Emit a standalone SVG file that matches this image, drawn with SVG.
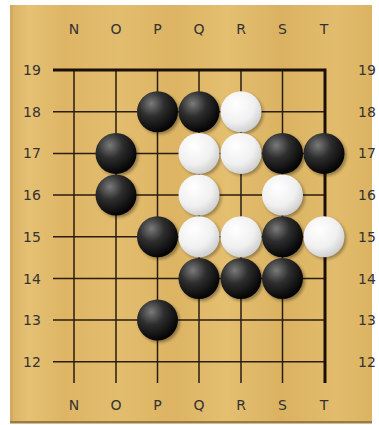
<svg xmlns="http://www.w3.org/2000/svg" width="379" height="425" viewBox="0 0 379 425">
<defs>
<linearGradient id="wood" x1="0" y1="0" x2="1" y2="0">
<stop offset="0" stop-color="#d9b162"/>
<stop offset="0.05" stop-color="#e6c173"/>
<stop offset="0.15" stop-color="#ddb565"/>
<stop offset="0.3" stop-color="#e3bd6e"/>
<stop offset="0.45" stop-color="#dcb463"/>
<stop offset="0.6" stop-color="#e4bf70"/>
<stop offset="0.75" stop-color="#dab262"/>
<stop offset="0.9" stop-color="#e2bc6c"/>
<stop offset="1" stop-color="#dbb363"/>
</linearGradient>
<radialGradient id="bg" cx="0.35" cy="0.3" r="0.7">
<stop offset="0" stop-color="#7a7a7a"/>
<stop offset="0.45" stop-color="#2e2e2e"/>
<stop offset="1" stop-color="#050505"/>
</radialGradient>
<radialGradient id="wg" cx="0.38" cy="0.32" r="0.75">
<stop offset="0" stop-color="#ffffff"/>
<stop offset="0.6" stop-color="#f0f0f0"/>
<stop offset="1" stop-color="#c8c8c8"/>
</radialGradient>
<filter id="sh" x="-30%" y="-30%" width="170%" height="170%">
<feGaussianBlur stdDeviation="1.5"/>
</filter>
<symbol id="b" overflow="visible">
<circle cx="2" cy="2" r="20.5" fill="#000" opacity="0.35" filter="url(#sh)"/>
<circle cx="0" cy="0" r="20.5" fill="url(#bg)"/>
</symbol>
<symbol id="w" overflow="visible">
<circle cx="2" cy="2" r="20.5" fill="#000" opacity="0.3" filter="url(#sh)"/>
<circle cx="0" cy="0" r="20.5" fill="url(#wg)"/>
</symbol>
</defs>
<style>
.lbl{font-family:"DejaVu Sans",Verdana,sans-serif;font-size:14px;fill:#333;text-anchor:middle}
.ln{stroke:#2a1c10;stroke-width:1.5;fill:none}
.bd{stroke:#1a1008;stroke-width:3;fill:none}
</style>
<rect x="10" y="5" width="362" height="418" fill="url(#wood)"/>
<rect x="10" y="5" width="3" height="418" fill="#c9a560" opacity="0.6"/>
<rect x="10" y="421" width="362" height="2.5" fill="#9c7a40"/>
<g id="grid">
<path class="ln" d="M53 111.7H325M53 153.4H325M53 195H325M53 236.8H325M53 278.5H325M53 320H325M53 361.7H325"/>
<path class="ln" d="M74 70V383M116 70V383M157.5 70V383M199 70V383M241 70V383M282.5 70V383"/>
<path class="bd" d="M53 70H325V383"/>
</g>
<g id="labels">
<text class="lbl" x="74" y="34">N</text><text class="lbl" x="116" y="34">O</text><text class="lbl" x="157.5" y="34">P</text><text class="lbl" x="199" y="34">Q</text><text class="lbl" x="241" y="34">R</text><text class="lbl" x="282.5" y="34">S</text><text class="lbl" x="324" y="34">T</text>
<text class="lbl" x="74" y="410">N</text><text class="lbl" x="116" y="410">O</text><text class="lbl" x="157.5" y="410">P</text><text class="lbl" x="199" y="410">Q</text><text class="lbl" x="241" y="410">R</text><text class="lbl" x="282.5" y="410">S</text><text class="lbl" x="324" y="410">T</text>
<text class="lbl" x="32" y="75">19</text><text class="lbl" x="32" y="116.7">18</text><text class="lbl" x="32" y="158.4">17</text><text class="lbl" x="32" y="200">16</text><text class="lbl" x="32" y="241.8">15</text><text class="lbl" x="32" y="283.5">14</text><text class="lbl" x="32" y="325">13</text><text class="lbl" x="32" y="366.7">12</text>
<text class="lbl" x="367" y="75">19</text><text class="lbl" x="367" y="116.7">18</text><text class="lbl" x="367" y="158.4">17</text><text class="lbl" x="367" y="200">16</text><text class="lbl" x="367" y="241.8">15</text><text class="lbl" x="367" y="283.5">14</text><text class="lbl" x="367" y="325">13</text><text class="lbl" x="367" y="366.7">12</text>
</g>
<g id="stones">
<use id="P18" href="#b" x="157.5" y="111.7"/>
<use id="Q18" href="#b" x="199" y="111.7"/>
<use id="R18" href="#w" x="241" y="111.7"/>
<use id="O17" href="#b" x="116" y="153.4"/>
<use id="Q17" href="#w" x="199" y="153.4"/>
<use id="R17" href="#w" x="241" y="153.4"/>
<use id="S17" href="#b" x="282.5" y="153.4"/>
<use id="T17" href="#b" x="324" y="153.4"/>
<use id="O16" href="#b" x="116" y="195"/>
<use id="Q16" href="#w" x="199" y="195"/>
<use id="S16" href="#w" x="282.5" y="195"/>
<use id="P15" href="#b" x="157.5" y="236.8"/>
<use id="Q15" href="#w" x="199" y="236.8"/>
<use id="R15" href="#w" x="241" y="236.8"/>
<use id="S15" href="#b" x="282.5" y="236.8"/>
<use id="T15" href="#w" x="324" y="236.8"/>
<use id="Q14" href="#b" x="199" y="278.5"/>
<use id="R14" href="#b" x="241" y="278.5"/>
<use id="S14" href="#b" x="282.5" y="278.5"/>
<use id="P13" href="#b" x="157.5" y="320"/>
</g>
</svg>
